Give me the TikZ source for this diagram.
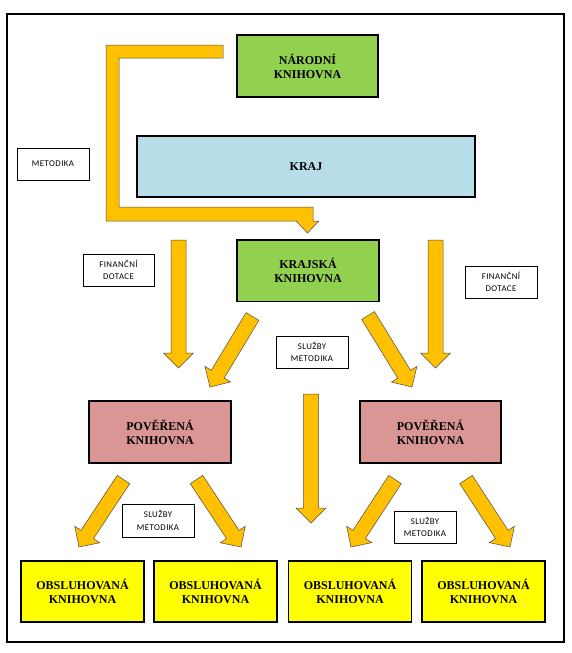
\documentclass[tikz,border=0pt]{standalone}
\usepackage{fontspec}
\setmainfont{Liberation Serif}
\newfontfamily\labfont[LetterSpace=5]{Carlito}
\usetikzlibrary{calc}
\definecolor{arrowgold}{HTML}{FFC000}
\definecolor{natgreen}{HTML}{92D050}
\definecolor{krajblue}{HTML}{B7DDE8}
\definecolor{povpink}{HTML}{D99694}
\definecolor{obsyellow}{HTML}{FFFF00}
\tikzset{
  box/.style={draw=black, line width=1.8pt, align=center, inner sep=0pt,
    font=\fontsize{12}{14}\selectfont\bfseries},
  labelbox/.style={draw=black, line width=0.7pt, fill=white, align=center, inner sep=0pt,
    minimum width=72pt, minimum height=32pt, font=\labfont\fontsize{8.8}{12.3}\selectfont},
  fatarrowstyle/.style={fill=arrowgold, draw=black!70, line width=0.5pt, line join=miter},
}
\newcommand\fatarrow[2]{%
  \coordinate (fa-h) at ($(#2)!15pt!(#1)$);
  \draw[fatarrowstyle] ($(#1)!7.5pt!90:(#2)$) -- ($(fa-h)!7.5pt!90:(#2)$)
    -- ($(fa-h)!15pt!90:(#2)$) -- (#2) -- ($(fa-h)!15pt!-90:(#2)$)
    -- ($(fa-h)!7.5pt!-90:(#2)$) -- ($(#1)!7.5pt!-90:(#2)$) -- cycle;
}
\begin{document}
\begin{tikzpicture}[x=1pt,y=-1pt]
\useasboundingbox[fill=white] (0,0) rectangle (572,653);
\draw[line width=1.8pt] (7,14) rectangle (564,642);

% main boxes
\node[box, fill=natgreen, minimum width=141pt, minimum height=62pt] (nar) at (307.5,66) {NÁRODNÍ\\KNIHOVNA};
\node[box, fill=krajblue, minimum width=338pt, minimum height=61pt] (kraj) at (306,166.5) {KRAJ};
\node[box, fill=natgreen, minimum width=142pt, minimum height=61.5pt] (krajska) at (308,270.7) {KRAJSKÁ\\KNIHOVNA};
\node[box, fill=povpink, minimum width=142pt, minimum height=62pt] (pov1) at (160,432) {POVĚŘENÁ\\KNIHOVNA};
\node[box, fill=povpink, minimum width=141pt, minimum height=62pt] (pov2) at (430.5,432) {POVĚŘENÁ\\KNIHOVNA};
\foreach \n/\x in {obs1/82.5, obs2/215.5, obs3/350, obs4/483.5}
  \node[box, fill=obsyellow, minimum width=123pt, minimum height=61pt] (\n) at (\x,591.5) {OBSLUHOVANÁ\\KNIHOVNA};

% label boxes
\node[labelbox] (met) at (53,164) {METODIKA};
\node[labelbox, minimum width=71pt] (fin1) at (118.5,270) {FINANČNÍ\\DOTACE};
\node[labelbox] (fin2) at (501,282) {FINANČNÍ\\DOTACE};
\node[labelbox] (sm1) at (312,352) {SLUŽBY\\METODIKA};
\node[labelbox, minimum height=33pt] (sm2) at (158,520.5) {SLUŽBY\\METODIKA};
\node[labelbox, minimum width=62pt] (sm3) at (425,527) {SLUŽBY\\METODIKA};

% L-shaped arrow from national library to regional library
\coordinate (lstart) at (223,45);
\coordinate (ltip) at (307.5,233);
\draw[fatarrowstyle] (106,45) -- (lstart) -- (223,58) -- (119,58) -- (119,207) -- (313,207)
  -- (313,221) -- (319,221) -- (ltip) -- (296,221) -- (106,221) -- cycle;

% arrow end points
\coordinate (v1s) at (178.5,240);  \coordinate (v1e) at (178.5,368);
\coordinate (v2s) at (435.5,240);  \coordinate (v2e) at (435.5,368);
\coordinate (v3s) at (311,394);    \coordinate (v3e) at (311,523);
\coordinate (d1s) at (252.5,316.5); \coordinate (d1e) at (210,387);
\coordinate (d2s) at (368,315.5);   \coordinate (d2e) at (412,387);
\coordinate (d3s) at (123.5,479.5); \coordinate (d3e) at (79,547);
\coordinate (d4s) at (196.5,479.5); \coordinate (d4e) at (241,547);
\coordinate (d5s) at (395,479.5);   \coordinate (d5e) at (351,547);
\coordinate (d6s) at (466,479.5);   \coordinate (d6e) at (510,547);

\fatarrow{v1s}{v1e}
\fatarrow{v2s}{v2e}
\fatarrow{v3s}{v3e}
\fatarrow{d1s}{d1e}
\fatarrow{d2s}{d2e}
\fatarrow{d3s}{d3e}
\fatarrow{d4s}{d4e}
\fatarrow{d5s}{d5e}
\fatarrow{d6s}{d6e}
\end{tikzpicture}
\end{document}
